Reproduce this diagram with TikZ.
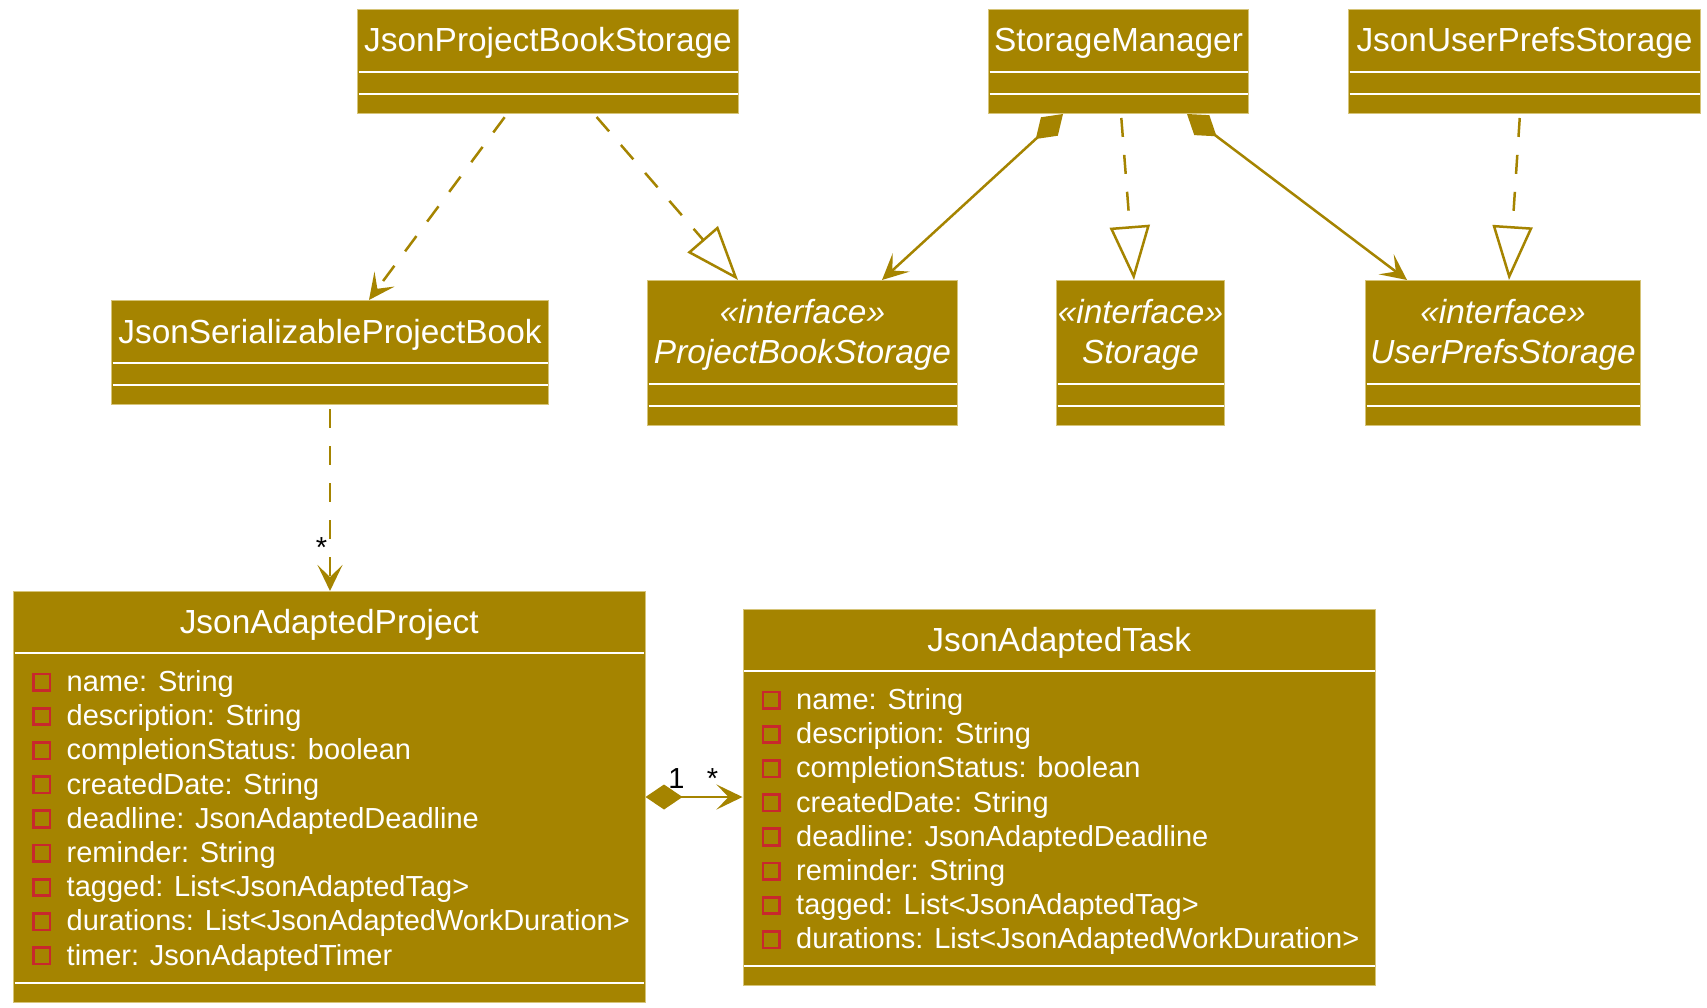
\documentclass[tikz,border=0pt]{standalone}
\usepackage{fontspec}
\setmainfont{Liberation Sans}
\usetikzlibrary{arrows.meta,calc,backgrounds}

\definecolor{gold}{RGB}{165,132,0}
\definecolor{gborder}{RGB}{214,196,120}
\definecolor{privred}{RGB}{200,40,45}

\tikzset{
  x=1pt, y=-1pt,
  classbox/.style={draw=gborder, line width=1pt, fill=gold, inner sep=0pt},
  titletext/.style={anchor=base, inner sep=0pt, text=white,
    font=\fontsize{33.4pt}{40pt}\selectfont},
  stereotext/.style={titletext, font=\fontsize{33.4pt}{40pt}\selectfont\itshape},
  attrtext/.style={anchor=base west, inner sep=0pt, text=white,
    font=\fontsize{29pt}{34pt}\selectfont},
  multtext/.style={anchor=base, inner sep=0pt, text=black,
    font=\fontsize{29pt}{34pt}\selectfont},
  sepline/.style={draw=white, line width=2.2pt},
  privmark/.style={draw=privred, line width=2.7pt},
  openhead/.tip={Stealth[length=26pt,width=25pt,inset=12pt]},
  hollowtri/.tip={Triangle[open,length=54pt,width=40pt]},
  soliddiamond/.tip={Diamond[length=37pt,width=25pt]},
  link/.style={draw=gold, line width=2.5pt},
  depend/.style={link, dash pattern=on 19pt off 18pt, shorten <=4pt, -openhead},
  realize/.style={link, dash pattern=on 19pt off 18pt, shorten <=4pt, -hollowtri},
  compose/.style={link, soliddiamond-openhead},
}

% class with empty attribute and method compartments
\newcommand\plainclass[5]{%
  \node[classbox, minimum width=#4pt, minimum height=104pt, anchor=north west] (#1) at (#2,#3) {};
  \node[titletext] (#1-name) at ($(#1.north)+(0,43)$) {#5};
  \draw[sepline] ($(#1.north west)+(1.5,63)$) -- ($(#1.north east)+(-1.5,63)$);
  \draw[sepline] ($(#1.north west)+(1.5,85)$) -- ($(#1.north east)+(-1.5,85)$);
}

% interface with stereotype line
\newcommand\ifaceclass[5]{%
  \node[classbox, minimum width=#4pt, minimum height=145pt, anchor=north west] (#1) at (#2,#3) {};
  \node[stereotext] (#1-stereo) at ($(#1.north)+(0,43)$) {«interface»};
  \node[stereotext] (#1-name) at ($(#1.north)+(0,83)$) {#5};
  \draw[sepline] ($(#1.north west)+(1.5,104)$) -- ($(#1.north east)+(-1.5,104)$);
  \draw[sepline] ($(#1.north west)+(1.5,126)$) -- ($(#1.north east)+(-1.5,126)$);
}

% class with a list of private fields: name, x, y, width, height, title, fields
\newcommand\attrclass[7]{%
  \node[classbox, minimum width=#4pt, minimum height=#5pt, anchor=north west] (#1) at (#2,#3) {};
  \node[titletext] (#1-name) at ($(#1.north)+(0,42)$) {#6};
  \draw[sepline] ($(#1.north west)+(1.5,62)$) -- ($(#1.north east)+(-1.5,62)$);
  \foreach \txt [count=\i from 0] in {#7} {
    \node[attrtext] (#1-a\i) at ($(#1.north west)+(53.5,100.5+34.2*\i)$) {\txt};
    \draw[privmark] ($(#1.north west)+(20.5,83+34.2*\i)$) rectangle ++(16.5,16.5);
  }
  \draw[sepline] ($(#1.south west)+(1.5,-20)$) -- ($(#1.south east)+(-1.5,-20)$);
}

\begin{document}
\begin{tikzpicture}
  \useasboundingbox (0,0) rectangle (1707,1008);

  % top row
  \plainclass{jpbs}{357}{9}{381}{JsonProjectBookStorage}
  \plainclass{sm}{988}{9}{260}{StorageManager}
  \plainclass{jups}{1348}{9}{352}{JsonUserPrefsStorage}

  % middle row
  \plainclass{jspb}{111}{300}{437}{JsonSerializableProjectBook}
  \ifaceclass{pbs}{647}{280}{310}{ProjectBookStorage}
  \ifaceclass{stor}{1056}{280}{168}{Storage}
  \ifaceclass{ups}{1365}{280}{275}{UserPrefsStorage}

  % bottom row
  \attrclass{jap}{13}{591}{631.5}{411}{JsonAdaptedProject}{name: String, description: String, completionStatus: boolean, createdDate: String, deadline: JsonAdaptedDeadline, reminder: String, tagged: List<JsonAdaptedTag>, durations: List<JsonAdaptedWorkDuration>, timer: JsonAdaptedTimer}
  \attrclass{jat}{742.5}{609}{632.5}{376}{JsonAdaptedTask}{name: String, description: String, completionStatus: boolean, createdDate: String, deadline: JsonAdaptedDeadline, reminder: String, tagged: List<JsonAdaptedTag>, durations: List<JsonAdaptedWorkDuration>}

  % relations, kept behind the class boxes
  \begin{pgfonlayer}{background}
    \fill[white] (0,0) rectangle (1707,1008);
    \draw[depend]  ($(jpbs.south west)+(150,0)$) -- ($(jspb.north west)+(258,0)$);
    \draw[realize] ($(jpbs.south west)+(237,0)$) -- ($(pbs.north west)+(91,0)$);
    \draw[compose] ($(sm.south west)+(75,0)$)    -- ($(pbs.north west)+(235,0)$);
    \draw[realize] ($(sm.south west)+(133,0)$)   -- ($(stor.north west)+(78,0)$);
    \draw[compose] ($(sm.south west)+(199,0)$)   -- ($(ups.north west)+(42,0)$);
    \draw[realize] ($(jups.south west)+(172,0)$) -- ($(ups.north west)+(144,0)$);
    \draw[depend]  (jspb.south) -- (jspb.south |- jap.north);
    \draw[compose] ($(jap.north east)+(0,206)$) -- ($(jat.north west)+(0,188)$);
  \end{pgfonlayer}

  % multiplicities
  \node[multtext] (m-book) at (321.5,557) {*};
  \node[multtext] (m-one)  at (676.5,788) {1};
  \node[multtext] (m-many) at (712.5,788) {*};
\end{tikzpicture}
\end{document}
